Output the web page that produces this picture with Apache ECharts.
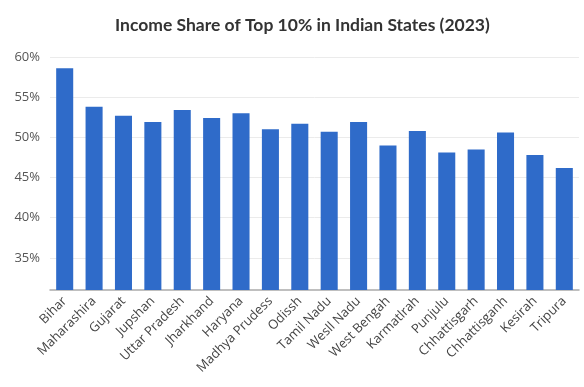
<!DOCTYPE html>
<html>
<head>
<meta charset="utf-8">
<script src="https://cdn.jsdelivr.net/npm/echarts@6/dist/echarts.min.js"></script>
<style>
html,body{margin:0;padding:0;background:#fff;}
#chart{width:584px;height:387px;}
</style>
</head>
<body>
<div id="chart"></div>
<script>
const states = ["Bihar","Maharashira","Gujarat","Jupshan","Uttar Pradesh","Jharkhand","Haryana","Madhya Prudess","Odissh","Tamil Nadu","Wesll Nadu","West Bengah","Karmatlrah","Punjulu","Chhattisgarh","Chhattisganh","Kesirah","Tripura"];
const incomeShare = [58.6,53.8,52.7,51.9,53.4,52.4,53.0,51.0,51.7,50.7,51.9,49.0,50.8,48.1,48.5,50.6,47.8,46.2];
const yTicks = [35,40,45,50,55,60];

const chart = echarts.init(document.getElementById('chart'));
chart.setOption({
  animation: false,
  backgroundColor: '#ffffff',
  title: {
    text: 'Income Share of Top 10% in Indian States (2023)',
    left: 110,
    top: 11,
    textStyle: {fontFamily: 'Lato', fontWeight: 'bold', fontSize: 17.5, color: '#333333'}
  },
  grid: {left: 50, right: 5, top: 57, bottom: 97},
  xAxis: {
    type: 'category',
    data: states,
    axisLine: {lineStyle: {color: '#aaaaaa', width: 1.5}},
    axisTick: {show: false},
    axisLabel: {rotate: 45, interval: 0, margin: 9, fontFamily: 'Open Sans', fontSize: 13, color: '#444444'}
  },
  yAxis: {
    type: 'value',
    min: 31,
    max: 60,
    axisLine: {show: false},
    axisTick: {show: false, customValues: yTicks},
    axisLabel: {customValues: yTicks, formatter: v => v + '%', fontFamily: 'Open Sans', fontSize: 13, color: '#555555', margin: 10},
    splitLine: {lineStyle: {color: '#ebebeb', width: 1}}
  },
  series: [{
    type: 'bar',
    data: incomeShare,
    barWidth: '58%',
    itemStyle: {color: '#2f6bc9'}
  }]
});
</script>
</body>
</html>
